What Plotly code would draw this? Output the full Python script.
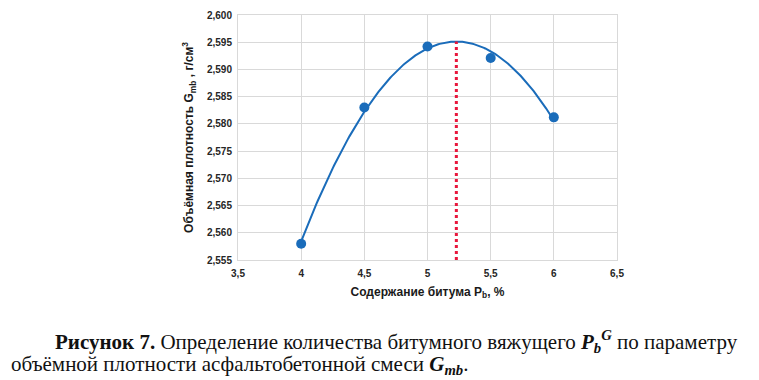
import numpy as np
import plotly.graph_objects as go

# Data
bitumen_pct = [4.0, 4.5, 5.0, 5.5, 6.0]
density_gmb = [2.558, 2.583, 2.5942, 2.5921, 2.5812]
x_ticks = [3.5, 4, 4.5, 5, 5.5, 6, 6.5]
x_tick_labels = ["3,5", "4", "4,5", "5", "5,5", "6", "6,5"]
y_ticks = [2.555, 2.560, 2.565, 2.570, 2.575, 2.580, 2.585, 2.590, 2.595, 2.600]
y_tick_labels = ["2,555", "2,560", "2,565", "2,570", "2,575", "2,580", "2,585",
                 "2,590", "2,595", "2,600"]

# Polynomial (2nd order) trendline fitted to the measured points
coef = np.polyfit(bitumen_pct, density_gmb, 2)
xs = np.linspace(min(bitumen_pct), max(bitumen_pct), 200)
ys = np.polyval(coef, xs)
x_opt = -coef[1] / (2 * coef[0])
y_opt = float(np.polyval(coef, x_opt))

blue = "#1a6cba"
red = "#e8173c"
grid = "#d9d9d9"
tickfont = dict(family="Liberation Sans, Arial", size=10, color="#262626")

# page body has an 8px margin -> figure is sized to the remaining area
W, H = 751, 372
L, R, T, B = 230, 142, 7, 120
pw, ph = W - L - R, H - T - B

fig = go.Figure()
fig.add_trace(go.Scatter(x=xs, y=ys, mode="lines",
                         line=dict(color=blue, width=2), hoverinfo="skip"))
fig.add_trace(go.Scatter(x=[x_opt, x_opt], y=[y_ticks[0], y_opt], mode="lines",
                         line=dict(color=red, width=3, dash="dot"), hoverinfo="skip"))
fig.add_trace(go.Scatter(x=bitumen_pct, y=density_gmb, mode="markers",
                         marker=dict(color=blue, size=10)))

fig.update_layout(
    width=W, height=H,
    margin=dict(l=L, r=R, t=T, b=B, autoexpand=False),
    paper_bgcolor="white", plot_bgcolor="white",
    showlegend=False,
    xaxis=dict(range=[3.5, 6.5], tickvals=x_ticks,
               ticktext=[f"<b>{t}</b>" for t in x_tick_labels],
               showgrid=True, gridcolor=grid,
               gridwidth=1, zeroline=False, showline=True, linecolor=grid, mirror=True,
               ticks="", tickfont=tickfont, ticklabelstandoff=4,
               title=dict(text="<b>Содержание битума P<sub>b</sub>, %</b>",
                          font=dict(family="Liberation Sans, Arial", size=12, color="#1a1a1a"),
                          standoff=9)),
    yaxis=dict(range=[2.555, 2.600], tickvals=y_ticks,
               ticktext=[f"<b>{t}</b>" for t in y_tick_labels],
               showgrid=True,
               gridcolor=grid, gridwidth=1, zeroline=False, showline=True, linecolor=grid,
               mirror=True, ticks="", tickfont=tickfont, ticklabelstandoff=3,
               title=dict(text="<b>Объёмная плотность G<sub>mb</sub> , г/см<sup>3</sup></b>",
                          font=dict(family="Liberation Sans, Arial", size=12, color="#1a1a1a"),
                          standoff=10)),
)

cap_font = dict(family="Liberation Serif, Times New Roman", size=21, color="#111111")
def px_x(xf):
    return (xf - L) / pw
def px_y(yf):
    return (H - B - yf) / ph

fig.add_annotation(
    text="<b>Рисунок 7.</b> Определение количества битумного вяжущего <b><i>P<sub>b</sub><sup>G</sup></i></b> по параметру",
    xref="paper", yref="paper", x=px_x(45), y=px_y(333),
    xanchor="left", yanchor="middle", showarrow=False, font=cap_font)
fig.add_annotation(
    text="объёмной плотности асфальтобетонной смеси <b><i>G<sub>mb</sub></i></b>.",
    xref="paper", yref="paper", x=px_x(1), y=px_y(357),
    xanchor="left", yanchor="middle", showarrow=False, font=cap_font)

fig.write_html("out.html")
